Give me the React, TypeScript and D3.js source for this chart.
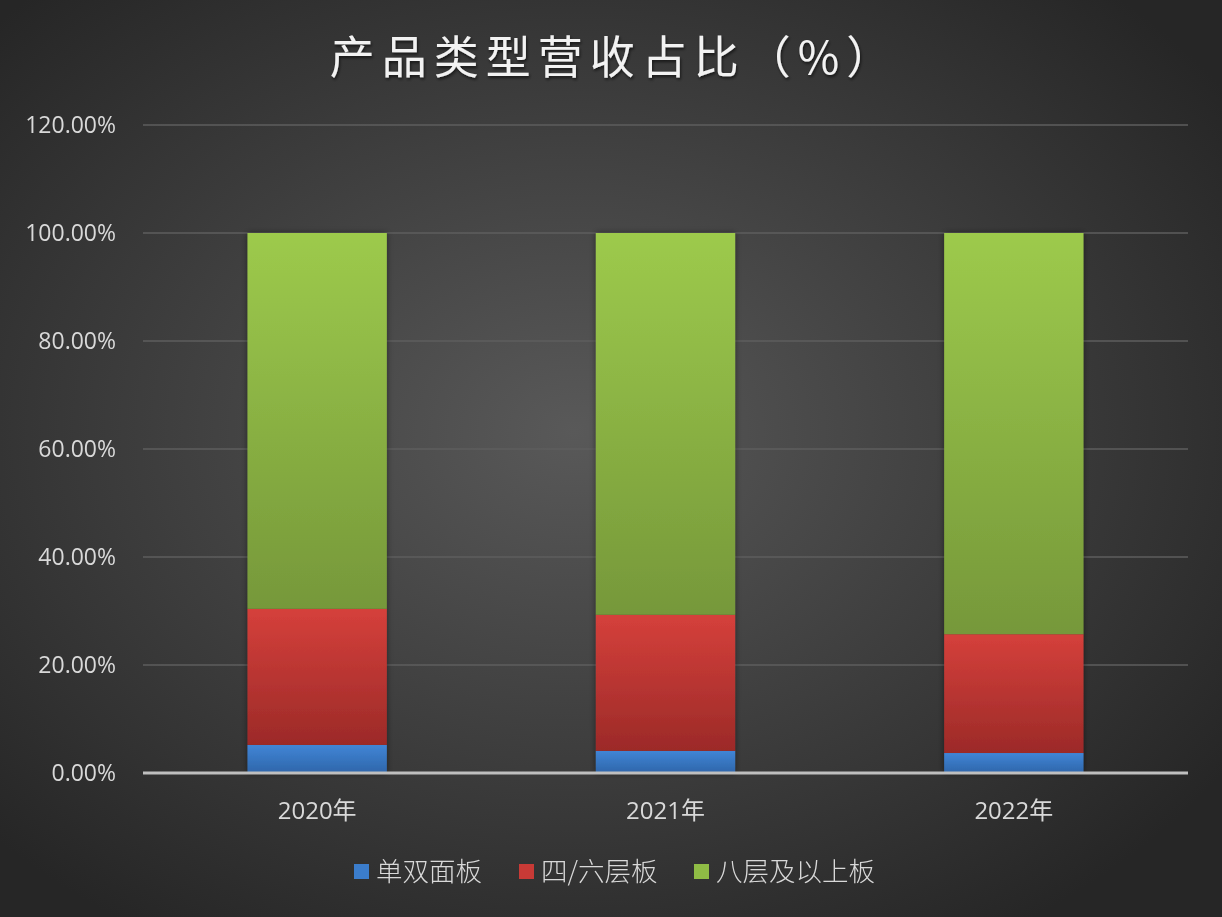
import { useEffect, useRef } from "react";
import * as d3 from "d3";

const years = ["2020年", "2021年", "2022年"];
const seriesNames = ["单双面板", "四/六层板", "八层及以上板"];
const singleDouble = [0.052, 0.041, 0.037];
const fourSix = [0.252, 0.252, 0.22];
const eightPlus = [0.696, 0.707, 0.743];
const yTicks = [0, 0.2, 0.4, 0.6, 0.8, 1.0, 1.2];

// top / bottom gradient colours per series
const colors = [
  ["#4185d6", "#2e66aa"],
  ["#d5403b", "#9c2a28"],
  ["#9dca4c", "#76983a"],
];
const swatch = ["#3b7dcc", "#c83a36", "#8fbc45"];

const W = 1222;
const H = 917;

export default function App() {
  const svgRef = useRef<SVGSVGElement>(null);

  useEffect(() => {
    const svg = d3.select(svgRef.current);
    svg.selectAll("*").remove();

    const margin = { top: 125, right: 34, bottom: 144, left: 143 };
    const width = W - margin.left - margin.right;
    const height = H - margin.top - margin.bottom;

    const defs = svg.append("defs");
    const bg = defs
      .append("radialGradient")
      .attr("id", "bg")
      .attr("cx", "47%")
      .attr("cy", "47%")
      .attr("r", "65%");
    bg.append("stop").attr("offset", "0%").attr("stop-color", "#595959");
    bg.append("stop").attr("offset", "100%").attr("stop-color", "#262626");

    colors.forEach((c, i) => {
      const g = defs
        .append("linearGradient")
        .attr("id", `bar${i}`)
        .attr("x1", 0)
        .attr("y1", 0)
        .attr("x2", 0)
        .attr("y2", 1);
      g.append("stop").attr("offset", "0%").attr("stop-color", c[0]);
      g.append("stop").attr("offset", "100%").attr("stop-color", c[1]);
    });

    const shadow = defs.append("filter").attr("id", "shadow");
    shadow
      .append("feDropShadow")
      .attr("dx", 1)
      .attr("dy", 2)
      .attr("stdDeviation", 1.5)
      .attr("flood-color", "#000")
      .attr("flood-opacity", 0.6);

    const barShadow = defs
      .append("filter")
      .attr("id", "barShadow")
      .attr("x", "-10%")
      .attr("width", "120%");
    barShadow
      .append("feDropShadow")
      .attr("dx", 0)
      .attr("dy", 0)
      .attr("stdDeviation", 3)
      .attr("flood-color", "#000")
      .attr("flood-opacity", 0.45);

    svg.append("rect").attr("width", W).attr("height", H).attr("fill", "url(#bg)");

    const g = svg
      .append("g")
      .attr("transform", `translate(${margin.left},${margin.top})`);

    const x = d3.scaleBand().domain(years).range([0, width]).paddingInner(0.6).paddingOuter(0.3);
    const y = d3.scaleLinear().domain([0, 1.2]).range([height, 0]);

    // gridlines
    g.append("g")
      .selectAll("line")
      .data(yTicks.slice(1))
      .join("line")
      .attr("x1", 0)
      .attr("x2", width)
      .attr("y1", (d) => y(d))
      .attr("y2", (d) => y(d))
      .attr("stroke", "#5e5e5e")
      .attr("stroke-width", 1.5);

    // y labels
    g.append("g")
      .selectAll("text")
      .data(yTicks)
      .join("text")
      .attr("x", -27)
      .attr("y", (d) => y(d))
      .attr("dy", "0.35em")
      .attr("text-anchor", "end")
      .attr("fill", "#d9d9d9")
      .style("font-family", "'Open Sans', 'Noto Sans', sans-serif")
      .style("font-size", "23px")
      .text((d) => d3.format(".2%")(d));

    // stacked data
    const rows = years.map((yr, i) => ({
      year: yr,
      a: singleDouble[i],
      b: fourSix[i],
      c: eightPlus[i],
    }));
    const stack = d3.stack<any>().keys(["a", "b", "c"])(rows);

    const bars = g.append("g").attr("filter", "url(#barShadow)");
    stack.forEach((layer, li) => {
      bars
        .append("g")
        .selectAll("rect")
        .data(layer)
        .join("rect")
        .attr("x", (d) => x(d.data.year)!)
        .attr("width", x.bandwidth())
        .attr("y", (d) => y(d[1]))
        .attr("height", (d) => y(d[0]) - y(d[1]))
        .attr("fill", `url(#bar${li})`);
    });

    // x axis line
    g.append("line")
      .attr("x1", 0)
      .attr("x2", width)
      .attr("y1", y(0))
      .attr("y2", y(0))
      .attr("stroke", "#bfbfbf")
      .attr("stroke-width", 3);

    // x labels
    g.append("g")
      .selectAll("text")
      .data(years)
      .join("text")
      .attr("x", (d) => x(d)! + x.bandwidth() / 2)
      .attr("y", height + 46)
      .attr("text-anchor", "middle")
      .attr("fill", "#d9d9d9")
      .style("font-family", "'Open Sans', 'Noto Sans CJK SC', sans-serif")
      .style("font-size", "24px")
      .text((d) => d);

    // title
    svg
      .append("text")
      .attr("x", 614)
      .attr("y", 74)
      .attr("text-anchor", "middle")
      .attr("fill", "#f2f2f2")
      .attr("filter", "url(#shadow)")
      .style("font-family", "'Noto Sans CJK SC', sans-serif")
      .style("font-weight", 400)
      .style("font-size", "45px")
      .style("letter-spacing", "7px")
      .text("产品类型营收占比（%）");

    // legend
    const legendX = [354, 519, 694];
    const legend = svg.append("g").attr("transform", `translate(0, 872)`);
    seriesNames.forEach((name, i) => {
      legend
        .append("rect")
        .attr("x", legendX[i])
        .attr("y", -8)
        .attr("width", 15)
        .attr("height", 15)
        .attr("fill", swatch[i]);
      legend
        .append("text")
        .attr("x", legendX[i] + 22)
        .attr("y", 0)
        .attr("dy", "0.35em")
        .attr("fill", "#d9d9d9")
        .style("font-family", "'Noto Sans CJK SC', sans-serif")
        .style("font-weight", 300)
        .style("font-size", "26.5px")
        .text(name);
    });
  }, []);

  return (
    <svg
      ref={svgRef}
      width={W}
      height={H}
      style={{ display: "block", position: "fixed", left: 0, top: 0 }}
    />
  );
}
